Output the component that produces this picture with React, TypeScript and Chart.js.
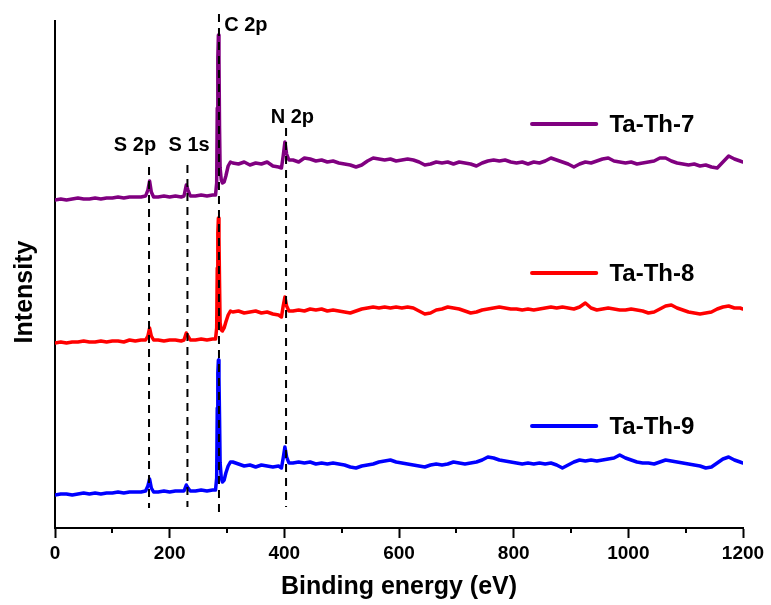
import React, { useEffect, useRef } from "react";
import { Chart, registerables } from "chart.js";

Chart.register(...registerables);

// Binding energy grid (eV)
const energies = [
  0, 10, 20, 30, 40, 50, 60, 70, 80, 90, 100, 110, 120, 130, 140, 150,
  158, 162, 165, 168, 172,
  180, 190, 200, 210, 220,
  225, 229, 232, 236,
  245, 255, 265, 275,
  280, 282, 283, 284, 285, 286, 287, 288, 290, 292, 295, 298, 302, 306, 310,
  320, 330, 340, 350, 360, 370, 380, 390,
  395, 398, 401, 404, 408,
  415, 425, 435, 445, 455, 465, 475, 485, 495, 505,
  515, 525, 535, 545, 555, 565, 575, 585, 595, 605,
  615, 625, 635, 645, 655, 665, 675, 685, 695, 705,
  715, 725, 735, 745, 755, 765, 775, 785, 795, 805,
  815, 825, 835, 845, 855, 865, 875, 885, 895, 905,
  915, 925, 935, 945, 955, 965, 975, 985, 995, 1005,
  1015, 1025, 1035, 1045, 1055, 1065, 1075, 1085, 1095, 1105,
  1115, 1125, 1135, 1145, 1155, 1165, 1175, 1185, 1195,
  1200,
];

const taTh7 = [
  328, 329, 328, 329, 330, 329, 329, 330, 329, 330, 330, 331, 330, 331, 331, 331,
  332, 338, 347, 336, 331,
  331, 332, 331, 332, 331,
  332, 343, 338, 332,
  332, 333, 332, 333,
  333, 345, 420, 470, 493, 470, 400, 360, 348, 345, 346, 352, 362, 366, 365,
  364, 366, 363, 365, 364, 366, 362, 361,
  360, 372, 386, 374, 368,
  368, 366, 370, 369, 367, 368, 366, 367, 365, 364,
  363, 361, 363, 367, 370, 369, 368, 369, 367, 368,
  369, 368, 366, 363, 364, 366, 365, 366, 364, 366,
  365, 364, 362, 365, 367, 368, 367, 368, 366, 365,
  366, 364, 366, 365, 367, 370, 368, 366, 364, 361,
  364, 366, 365, 367, 369, 370, 367, 366, 365, 366,
  364, 365, 366, 367, 370, 370, 367, 365, 364, 363,
  364, 362, 363, 361, 360, 366, 372, 369, 367,
  366,
];

const taTh8 = [
  185, 186, 185, 186, 186, 187, 186, 186, 187, 186, 187, 187, 186, 188, 187, 188,
  188, 192, 200, 192, 188,
  188, 187, 188, 188, 187,
  188, 195, 192, 188,
  188, 189, 188, 189,
  189, 200, 260, 295, 310, 290, 245, 205, 198, 197, 200, 206, 213, 217, 216,
  217, 215, 216, 217, 215, 216, 214, 213,
  211, 222, 231, 222, 217,
  217, 218, 217, 219, 218, 219, 217, 218, 217, 216,
  215, 217, 219, 220, 221, 220, 221, 220, 221, 220,
  221, 220, 217, 214, 215, 218, 219, 221, 220, 219,
  217, 215, 216, 218, 219, 220, 221, 220, 219, 219,
  218, 219, 218, 219, 220, 221, 220, 221, 220, 219,
  221, 225, 220, 218, 219, 220, 219, 218, 218, 219,
  218, 217, 215, 216, 219, 222, 223, 220, 218, 216,
  215, 214, 215, 216, 219, 221, 222, 220, 220,
  219,
];

const taTh9 = [
  33, 34, 34, 33, 34, 35, 34, 35, 34, 35, 35, 36, 35, 36, 36, 36,
  37, 42, 49, 40, 36,
  36, 37, 36, 37, 37,
  37, 43, 40, 37,
  37, 38, 37, 38,
  38, 50, 120, 155, 168, 150, 110, 65, 50, 46, 48, 55, 62, 66, 66,
  64, 62, 63, 61, 63, 62, 61, 62,
  60, 70, 81, 71, 65,
  65, 66, 65, 66, 64, 65, 64, 65, 64, 63,
  61, 60, 62, 63, 64, 66, 67, 68, 66, 65,
  64, 63, 62, 61, 63, 64, 63, 64, 66, 65,
  64, 65, 66, 68, 71, 70, 68, 67, 66, 65,
  64, 65, 64, 65, 64, 65, 63, 60, 63, 66,
  68, 67, 68, 67, 68, 69, 70, 73, 70, 68,
  66, 65, 65, 64, 66, 68, 67, 66, 65, 64,
  63, 62, 60, 61, 65, 69, 71, 68, 66,
  65,
];

// Peak reference lines
const peakNames = ["S 2p", "S 1s", "C 2p", "N 2p"];
const peakEnergies = [164, 231, 286, 403];
const peakLineTops = [361, 363, 514, 400];
const peakLineBottoms = [20, 21, 16, 21];

const seriesNames = ["Ta-Th-7", "Ta-Th-8", "Ta-Th-9"];
const seriesColors = ["#800080", "#ff0000", "#0000ff"];
const seriesValues = [taTh7, taTh8, taTh9];

const xTicks = [0, 200, 400, 600, 800, 1000, 1200];
const minorTicks = [100, 300, 500, 700, 900, 1100];

const FONT = 'Arial, "Liberation Sans", sans-serif';

export default function App() {
  const ref = useRef<HTMLCanvasElement | null>(null);

  useEffect(() => {
    if (!ref.current) return;

    const curveSets = seriesValues.map((vals, s) => ({
      label: seriesNames[s],
      data: energies.map((e, i) => ({ x: e, y: vals[i] })),
      borderColor: seriesColors[s],
      backgroundColor: seriesColors[s],
      borderWidth: 3.5,
      borderJoinStyle: "round",
      borderCapStyle: "round",
      pointRadius: 0,
      tension: 0,
      order: 2,
    }));

    const dashSets = peakEnergies.map((e, i) => ({
      label: peakNames[i],
      data: [
        { x: e, y: peakLineTops[i] },
        { x: e, y: peakLineBottoms[i] },
      ],
      borderColor: "#000",
      borderWidth: 2,
      borderDash: [8, 6],
      pointRadius: 0,
      clip: false as any,
      order: 1,
    }));

    const overlay = {
      id: "overlay",
      afterDraw(chart: any) {
        const { ctx, scales } = chart;
        const xs = scales.x;
        const ys = scales.y;
        const bottom = chart.chartArea.bottom;
        ctx.save();
        // minor ticks
        ctx.strokeStyle = "#000";
        ctx.lineWidth = 2;
        minorTicks.forEach((v) => {
          const px = Math.round(xs.getPixelForValue(v));
          ctx.beginPath();
          ctx.moveTo(px, bottom);
          ctx.lineTo(px, bottom + 5);
          ctx.stroke();
        });

        // peak labels
        ctx.fillStyle = "#000";
        ctx.font = `bold 20px ${FONT}`;
        ctx.textBaseline = "middle";
        const labelPos = [
          { x: 139.5, y: 383, align: "center" },
          { x: 234, y: 383, align: "center" },
          { x: 295, y: 503, align: "left" },
          { x: 414, y: 411, align: "center" },
        ];
        peakNames.forEach((n, i) => {
          ctx.textAlign = labelPos[i].align;
          ctx.fillText(n, xs.getPixelForValue(labelPos[i].x), ys.getPixelForValue(labelPos[i].y));
        });

        // legend entries
        const legendY = [404, 255, 102];
        ctx.font = `bold 24px ${FONT}`;
        ctx.textAlign = "left";
        seriesNames.forEach((n, i) => {
          const y = ys.getPixelForValue(legendY[i]);
          const x1 = xs.getPixelForValue(832);
          const x2 = xs.getPixelForValue(944);
          ctx.strokeStyle = seriesColors[i];
          ctx.lineWidth = 4;
          ctx.lineCap = "round";
          ctx.beginPath();
          ctx.moveTo(x1, y);
          ctx.lineTo(x2, y);
          ctx.stroke();
          ctx.fillStyle = "#000";
          ctx.fillText(n, xs.getPixelForValue(967), y + 1);
        });

        // axis titles
        ctx.font = `bold 25px ${FONT}`;
        ctx.textAlign = "center";
        ctx.textBaseline = "middle";
        ctx.fillText("Binding energy (eV)", (chart.chartArea.left + chart.chartArea.right) / 2, 587);
        ctx.translate(25, 292);
        ctx.rotate(-Math.PI / 2);
        ctx.fillText("Intensity", 0, 0);
        ctx.restore();
      },
    };

    const chart = new Chart(ref.current, {
      type: "line",
      data: { datasets: [...dashSets, ...curveSets] as any },
      options: {
        animation: false,
        responsive: false,
        events: [],
        layout: { padding: { top: 21, right: 28, left: 0, bottom: 0 } },
        plugins: { legend: { display: false }, tooltip: { enabled: false } },
        scales: {
          x: {
            type: "linear",
            min: 0,
            max: 1200,
            afterBuildTicks: (s: any) => {
              s.ticks = xTicks.map((v) => ({ value: v }));
            },
            afterFit: (s: any) => {
              s.height = 77;
            },
            ticks: {
              color: "#000",
              font: { family: FONT, size: 19, weight: "bold" },
              padding: 4,
              maxRotation: 0,
              callback: (v: any) => String(v),
            },
            grid: {
              drawOnChartArea: false,
              drawTicks: true,
              tickLength: 10,
              tickWidth: 2,
              tickColor: "#000",
            },
            border: { display: true, color: "#000", width: 2 },
          },
          y: {
            type: "linear",
            min: 0,
            max: 507,
            afterFit: (s: any) => {
              s.width = 55;
            },
            ticks: { display: false },
            grid: { display: false },
            border: { display: true, color: "#000", width: 2 },
          },
        },
      },
      plugins: [overlay],
    });

    return () => chart.destroy();
  }, []);

  return (
    <div style={{ position: "absolute", left: 0, top: 0, width: 771, height: 605, background: "#fff" }}>
      <canvas ref={ref} width={771} height={605} style={{ display: "block" }} />
    </div>
  );
}
